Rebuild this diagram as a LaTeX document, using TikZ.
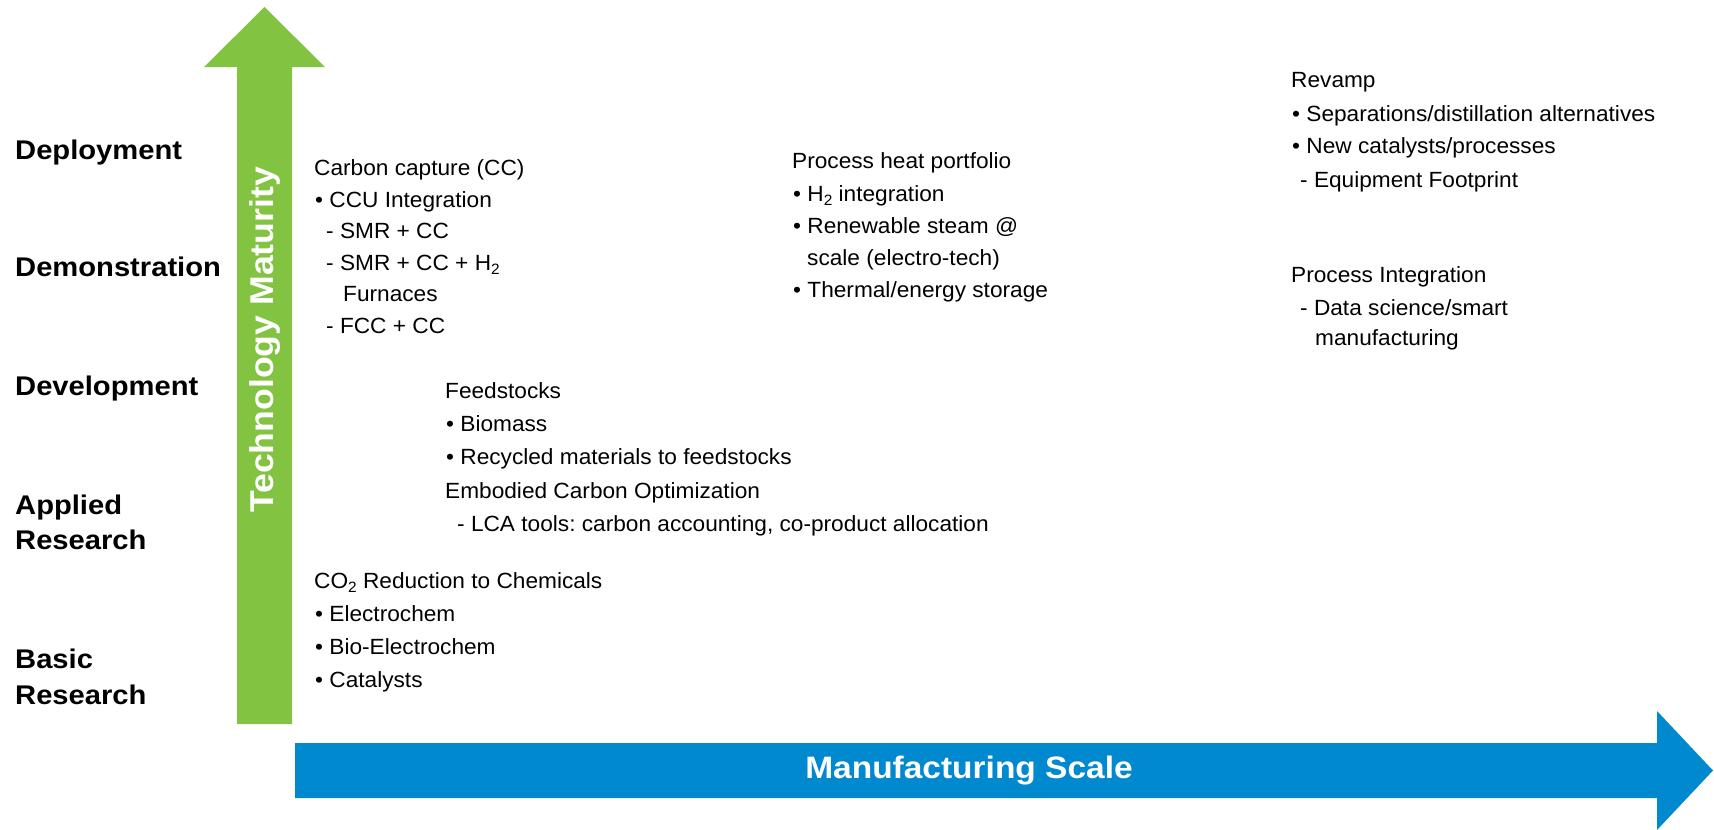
\documentclass[tikz,border=0pt]{standalone}
\usepackage{fontspec}
\setmainfont{Liberation Sans}[FakeStretch=1.03]
\newfontfamily\boldlbl{Liberation Sans}[FakeStretch=1.08]
\newcommand\subtwo{\raisebox{-0.2em}{\fontsize{15}{15}\selectfont 2}}
\definecolor{arrgreen}{RGB}{131,195,66}
\definecolor{arrblue}{RGB}{0,137,207}
\frenchspacing
\begin{document}
\begin{tikzpicture}[x=1pt,y=-1pt,
  body/.style={anchor=base west, inner sep=0pt, font=\fontsize{22}{26}\selectfont},
  lvl/.style={anchor=base west, inner sep=0pt, font=\boldlbl\bfseries\fontsize{27}{32}\selectfont},
  axislbl/.style={inner sep=0pt, text=white, font=\boldlbl\bfseries\fontsize{31}{36}\selectfont}]
\useasboundingbox (0,0) rectangle (1714,830);
% arrows
\fill[arrgreen] (264.5,7) -- (325,67) -- (292,67) -- (292,724) -- (237,724) -- (237,67) -- (204,67) -- cycle;
\fill[arrblue] (295,743) -- (1657,743) -- (1657,711) -- (1713,770.5) -- (1657,830) -- (1657,798) -- (295,798) -- cycle;
\node[axislbl, rotate=90, font=\boldlbl\bfseries\fontsize{33}{38}\selectfont] (tm) at (265,340) {Technology Maturity};
\node[axislbl] (ms) at (969,770.5) {Manufacturing Scale};
% level labels
\node[lvl] (l1) at (15,159) {Deployment};
\node[lvl] (l2) at (15,276) {Demonstration};
\node[lvl] (l3) at (15,395) {Development};
\node[lvl] (l4a) at (15,514) {Applied};
\node[lvl] (l4b) at (15,549) {Research};
\node[lvl] (l5a) at (15,668) {Basic};
\node[lvl] (l5b) at (15,704) {Research};
% carbon capture
\node[body] (cc1) at (314,175) {Carbon capture (CC)};
\node[body] (cc2) at (315,207) {• CCU Integration};
\node[body] (cc3) at (326,238) {- SMR + CC};
\node[body] (cc4) at (326,270) {- SMR + CC + H\subtwo};
\node[body] (cc5) at (343,301) {Furnaces};
\node[body] (cc6) at (326,333) {- FCC + CC};
% process heat
\node[body] (ph1) at (792,168) {Process heat portfolio};
\node[body] (ph2) at (793,201) {• H\subtwo{} integration};
\node[body] (ph3) at (793,233) {• Renewable steam @};
\node[body] (ph4) at (807,265) {scale (electro-tech)};
\node[body] (ph5) at (793,297) {• Thermal/energy storage};
% revamp
\node[body] (rv1) at (1291,87) {Revamp};
\node[body] (rv2) at (1292,121) {• Separations/distillation alternatives};
\node[body] (rv3) at (1292,153) {• New catalysts/processes};
\node[body] (rv4) at (1300,187) {- Equipment Footprint};
\node[body] (pi1) at (1291,282) {Process Integration};
\node[body] (pi2) at (1300,315) {- Data science/smart};
\node[body] (pi3) at (1315,345) {manufacturing};
% feedstocks
\node[body] (fs1) at (445,398) {Feedstocks};
\node[body] (fs2) at (446,431) {• Biomass};
\node[body] (fs3) at (446,464) {• Recycled materials to feedstocks};
\node[body] (fs4) at (445,498) {Embodied Carbon Optimization};
\node[body] (fs5) at (457,531) {- LCA tools: carbon accounting, co-product allocation};
% CO2
\node[body] (co1) at (314,588) {CO\subtwo{} Reduction to Chemicals};
\node[body] (co2) at (315,621) {• Electrochem};
\node[body] (co3) at (315,654) {• Bio-Electrochem};
\node[body] (co4) at (315,687) {• Catalysts};
\end{tikzpicture}
\end{document}
